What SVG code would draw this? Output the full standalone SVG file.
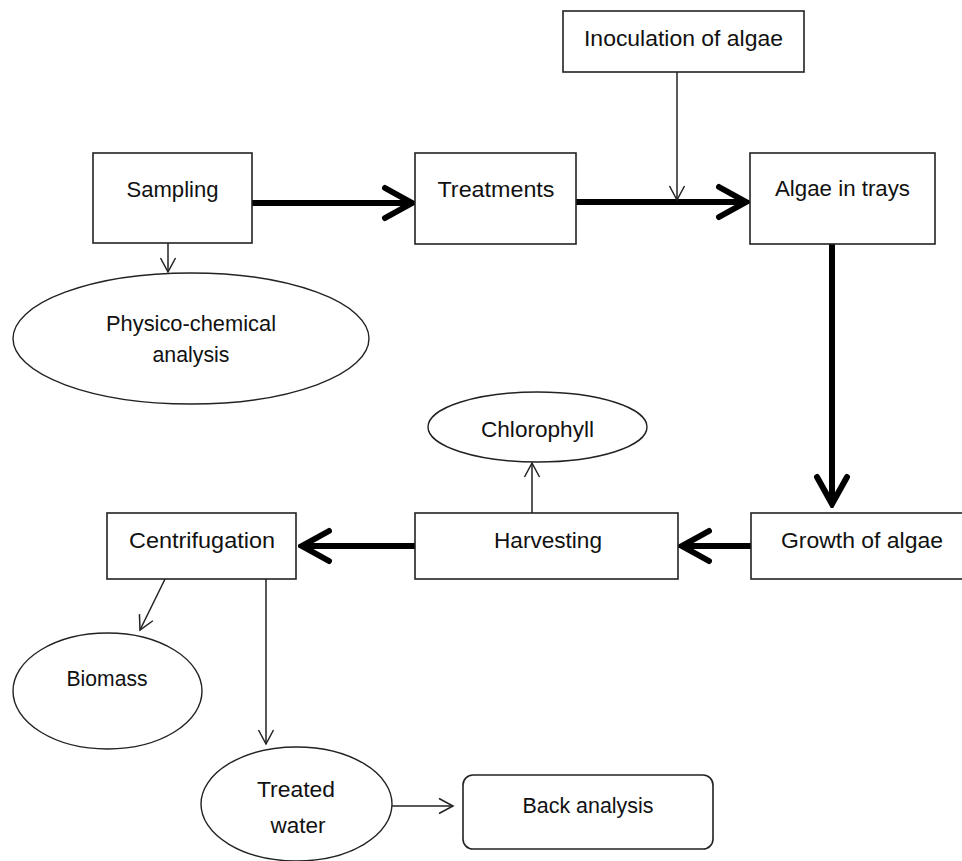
<svg xmlns="http://www.w3.org/2000/svg" width="962" height="861" viewBox="0 0 962 861">
<defs>
<style>
.box{fill:#fff;stroke:#222;stroke-width:1.6}
.ell{fill:#fff;stroke:#222;stroke-width:1.4}
.t{font-family:"Liberation Sans",Arial,sans-serif;font-size:22px;fill:#111;text-anchor:middle}
.thick{stroke:#000;stroke-width:6;fill:none}
.thin{stroke:#222;stroke-width:1.5;fill:none}
</style>
<marker id="bigHead" viewBox="-32 -19 36 38" refX="0" refY="0" markerWidth="36" markerHeight="38" markerUnits="userSpaceOnUse" orient="auto">
<path d="M-27,-15 L0,0 L-27,15" fill="none" stroke="#000" stroke-width="6" stroke-linecap="round" stroke-linejoin="miter"/>
</marker>
<marker id="smallHead" viewBox="-17 -10 20 20" refX="0" refY="0" markerWidth="20" markerHeight="20" markerUnits="userSpaceOnUse" orient="auto">
<path d="M-14,-7.5 L0,0 L-14,7.5" fill="none" stroke="#222" stroke-width="1.5"/>
</marker>
</defs>
<rect width="962" height="861" fill="#fff"/>

<g id="connectors">
<line class="thick" x1="252" y1="203" x2="412" y2="203" marker-end="url(#bigHead)"/>
<line class="thick" x1="576" y1="202" x2="746" y2="202" marker-end="url(#bigHead)"/>
<line class="thin" x1="677" y1="72" x2="677" y2="200" marker-end="url(#smallHead)"/>
<line class="thick" x1="832" y1="244" x2="832" y2="504" marker-end="url(#bigHead)"/>
<line class="thick" x1="751" y1="546" x2="682" y2="546" marker-end="url(#bigHead)"/>
<line class="thick" x1="415" y1="546" x2="302" y2="546" marker-end="url(#bigHead)"/>
<line class="thin" x1="168" y1="243" x2="168" y2="272" marker-end="url(#smallHead)"/>
<line class="thin" x1="532" y1="513" x2="532" y2="463" marker-end="url(#smallHead)"/>
<line class="thin" x1="167" y1="575" x2="140" y2="630" marker-end="url(#smallHead)"/>
<line class="thin" x1="266" y1="579" x2="266" y2="744" marker-end="url(#smallHead)"/>
<line class="thin" x1="392" y1="806" x2="453" y2="806" marker-end="url(#smallHead)"/>
</g>

<g id="sampling">
<rect class="box" x="93" y="153" width="159" height="90"/>
<text class="t" x="172.5" y="197" textLength="92" lengthAdjust="spacingAndGlyphs">Sampling</text>
</g>
<g id="treatments">
<rect class="box" x="415" y="153" width="161" height="91"/>
<text class="t" x="496" y="197" textLength="117" lengthAdjust="spacingAndGlyphs">Treatments</text>
</g>
<g id="inoculation">
<rect class="box" x="563" y="11" width="241" height="61"/>
<text class="t" x="683.5" y="46" textLength="199" lengthAdjust="spacingAndGlyphs">Inoculation of algae</text>
</g>
<g id="algae-trays">
<rect class="box" x="750" y="153" width="185" height="91"/>
<text class="t" x="842.5" y="196" textLength="135" lengthAdjust="spacingAndGlyphs">Algae in trays</text>
</g>
<g id="physico">
<ellipse class="ell" cx="191" cy="338.5" rx="178" ry="65.5"/>
<text class="t" x="191" y="331" textLength="170" lengthAdjust="spacingAndGlyphs">Physico-chemical</text>
<text class="t" x="191" y="362" textLength="77" lengthAdjust="spacingAndGlyphs">analysis</text>
</g>
<g id="chlorophyll">
<ellipse class="ell" cx="537.5" cy="427" rx="109.5" ry="35"/>
<text class="t" x="537.5" y="437" textLength="113" lengthAdjust="spacingAndGlyphs">Chlorophyll</text>
</g>
<g id="growth">
<rect class="box" x="751" y="513" width="215" height="66"/>
<text class="t" x="862" y="548" textLength="162" lengthAdjust="spacingAndGlyphs">Growth of algae</text>
</g>
<g id="harvesting">
<rect class="box" x="415" y="513" width="263" height="66"/>
<text class="t" x="548" y="548" textLength="108" lengthAdjust="spacingAndGlyphs">Harvesting</text>
</g>
<g id="centrifugation">
<rect class="box" x="107" y="513" width="189" height="66"/>
<text class="t" x="202" y="548" textLength="146" lengthAdjust="spacingAndGlyphs">Centrifugation</text>
</g>
<g id="biomass">
<ellipse class="ell" cx="107.5" cy="691" rx="94.5" ry="58"/>
<text class="t" x="107" y="686" textLength="81" lengthAdjust="spacingAndGlyphs">Biomass</text>
</g>
<g id="treated-water">
<ellipse class="ell" cx="296.5" cy="804" rx="95.5" ry="57"/>
<text class="t" x="296" y="797" textLength="78" lengthAdjust="spacingAndGlyphs">Treated</text>
<text class="t" x="298" y="833" textLength="55" lengthAdjust="spacingAndGlyphs">water</text>
</g>
<g id="back-analysis">
<rect class="box" x="463" y="775" width="250" height="74" rx="10" ry="10"/>
<text class="t" x="588" y="813" textLength="131" lengthAdjust="spacingAndGlyphs">Back analysis</text>
</g>
</svg>
